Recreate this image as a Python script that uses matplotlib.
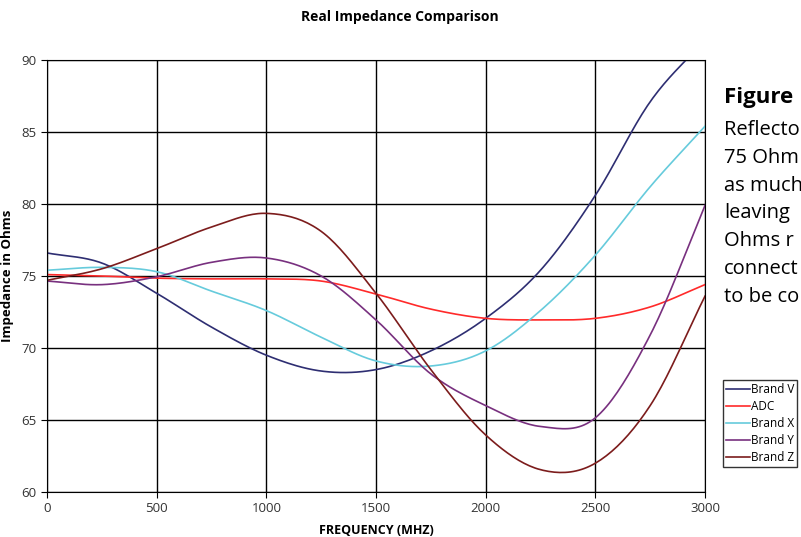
import numpy as np
import matplotlib
matplotlib.use("Agg")
import matplotlib.pyplot as plt

plt.rcParams['font.family'] = ['Open Sans', 'DejaVu Sans']

# data (MHz, Ohms)
freq = [0, 250, 500, 750, 1000, 1250, 1500, 1750, 2000, 2250, 2500, 2750, 3000]
brand_v = [76.6, 75.9, 73.8, 71.45, 69.5, 68.4, 68.5, 69.8, 72.06, 75.4, 80.6, 87.1, 91.4]
adc = [75.1, 75.0, 74.85, 74.8, 74.8, 74.65, 73.75, 72.7, 72.06, 71.95, 72.06, 72.85, 74.4]
brand_x = [75.4, 75.6, 75.3, 73.95, 72.6, 70.75, 69.1, 68.75, 69.8, 72.6, 76.45, 81.2, 85.4]
brand_y = [74.65, 74.4, 74.95, 75.95, 76.25, 75.0, 71.95, 68.2, 66.0, 64.55, 65.15, 70.9, 79.9]
brand_z = [74.7, 75.5, 76.9, 78.4, 79.35, 78.1, 73.8, 68.5, 63.96, 61.55, 62.0, 66.0, 73.6]

series = [("Brand V", brand_v, "#2e2e72"),
          ("ADC", adc, "#ff2a2a"),
          ("Brand X", brand_x, "#66cbdc"),
          ("Brand Y", brand_y, "#78307f"),
          ("Brand Z", brand_z, "#7c1c1c")]

side_text = ["Reflecto", "75 Ohm", "as much", "leaving", "Ohms r", "connect", "to be co"]


def smooth(x, y, n=20):
    # Catmull-Rom style smoothing, like the spreadsheet's smoothed lines
    x = np.asarray(x, float)
    y = np.asarray(y, float)
    mx = np.gradient(x)
    my = np.gradient(y)
    t = np.linspace(0, 1, n, endpoint=False)
    h00 = 2*t**3 - 3*t**2 + 1
    h10 = t**3 - 2*t**2 + t
    h01 = -2*t**3 + 3*t**2
    h11 = t**3 - t**2
    xs, ys = [], []
    for i in range(len(x) - 1):
        xs.append(h00*x[i] + h10*mx[i] + h01*x[i+1] + h11*mx[i+1])
        ys.append(h00*y[i] + h10*my[i] + h01*y[i+1] + h11*my[i+1])
    xs.append([x[-1]])
    ys.append([y[-1]])
    return np.concatenate(xs), np.concatenate(ys)


fig = plt.figure(figsize=(8.01, 5.37), dpi=100)
ax = fig.add_axes([47/801, 1-492/537, 658/801, 432/537])

lines = []
for name, vals, col in series:
    xs, ys = smooth(freq, vals)
    ln, = ax.plot(xs, ys, color=col, lw=1.2, label=name)
    lines.append(ln)

ax.set_xlim(0, 3000)
ax.set_ylim(60, 90)
ax.set_xticks(range(0, 3001, 500))
ax.set_yticks(range(60, 91, 5))
ax.grid(True, color="black", lw=1)
ax.set_axisbelow(True)
for s in ax.spines.values():
    s.set_color("black")
ax.tick_params(labelsize=9.5, colors="#333333", length=4, width=0.8)
ax.tick_params(axis='both', color="black")

ax.set_xlabel("FREQUENCY (MHZ)", fontsize=9, fontweight="bold", labelpad=6)
ax.set_ylabel("Impedance in Ohms", fontsize=9.5, fontweight="bold")
ax.yaxis.set_label_coords((14 - 47) / 658, 0.5)
fig.text(400/801, 1-17/537, "Real Impedance Comparison", ha="center", va="center",
         fontsize=10, fontweight="bold")

leg = fig.legend(handles=lines, loc="upper left", bbox_to_anchor=(723/801, 1-380/537),
                 fontsize=8.5, frameon=True, fancybox=False, borderpad=0.25,
                 labelspacing=0.35, handlelength=2.0, handletextpad=0.1,
                 borderaxespad=0)
leg.get_frame().set_edgecolor("black")
leg.get_frame().set_linewidth(1)

fig.text(724/801, 1-98/537, "Figure", fontsize=16, fontweight="bold", va="center")
for i, t in enumerate(side_text):
    fig.text(724/801, 1-(130 + i*27.8)/537, t, fontsize=14.5, va="center")

fig.savefig("out.png", dpi=100)
